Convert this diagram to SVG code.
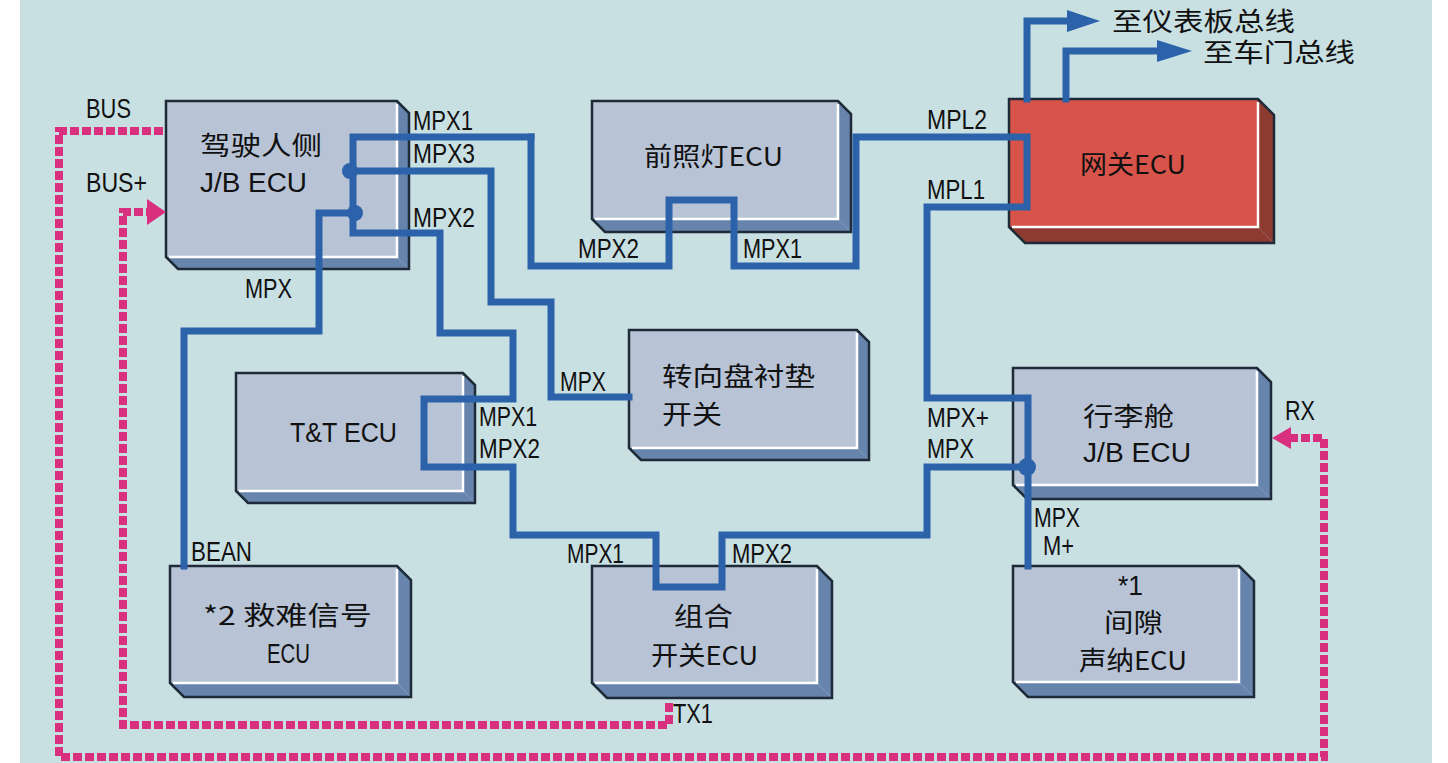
<svg xmlns="http://www.w3.org/2000/svg" width="1448" height="763" viewBox="0 0 1448 763">
<style>
.front{fill:#B8C4D6}
.side{fill:#6785AC}
.gfront{fill:#D8534A}
.gside{fill:#8D3A30}
.outl{fill:none;stroke:#1E2A38;stroke-width:2.5;stroke-linejoin:miter}
.hl{fill:none;stroke:#FFFFFF;stroke-width:2.5}
.cjk{font-family:"Noto Sans CJK SC","Liberation Sans",sans-serif;font-size:26px;fill:#111}
.lbl{font-family:"Liberation Sans",Arial,sans-serif;font-size:27px;fill:#111}
.bus{fill:none;stroke:#2C62AA;stroke-width:7;stroke-linejoin:miter;stroke-linecap:square}
.pink{fill:none;stroke:#D8307F;stroke-width:8;stroke-dasharray:9 3}
</style>
<rect x="20" y="0" width="1412" height="763" fill="#C9E0E3"/>

<g id="node-driver-jb">
<polygon class="side" points="397,101 409,113 409,269 397,257"/>
<polygon class="side" points="166,257 397,257 409,269 178,269"/>
<rect class="front" x="166" y="101" width="231" height="156"/>
<polyline class="hl" points="397,104 397,257 169,257"/>
<polygon class="outl" points="166,101 397,101 409,113 409,269 178,269 166,257"/>
<text class="cjk" x="200" y="155" textLength="122" lengthAdjust="spacingAndGlyphs">驾驶人侧</text>
<text class="lbl" x="200" y="192" textLength="107" lengthAdjust="spacingAndGlyphs">J/B ECU</text>
</g>

<g id="node-headlight">
<polygon class="side" points="838,101 851,114 851,232 838,219"/>
<polygon class="side" points="592,219 838,219 851,232 605,232"/>
<rect class="front" x="592" y="101" width="246" height="118"/>
<polyline class="hl" points="838,104 838,219 595,219"/>
<polygon class="outl" points="592,101 838,101 851,114 851,232 605,232 592,219"/>
<text class="cjk" x="644" y="166" textLength="139" lengthAdjust="spacingAndGlyphs">前照灯ECU</text>
</g>

<g id="node-gateway">
<polygon class="gside" points="1258,99 1274,115 1274,243 1258,227"/>
<polygon class="gside" points="1009,227 1258,227 1274,243 1025,243"/>
<rect class="gfront" x="1009" y="99" width="249" height="128"/>
<polyline class="hl" points="1258,102 1258,227 1012,227"/>
<polygon class="outl" points="1009,99 1258,99 1274,115 1274,243 1025,243 1009,227"/>
<text class="cjk" x="1080" y="174" textLength="106" lengthAdjust="spacingAndGlyphs">网关ECU</text>
</g>

<g id="node-tt">
<polygon class="side" points="463,373 475,385 475,503 463,491"/>
<polygon class="side" points="236,491 463,491 475,503 248,503"/>
<rect class="front" x="236" y="373" width="227" height="118"/>
<polyline class="hl" points="463,376 463,491 239,491"/>
<polygon class="outl" points="236,373 463,373 475,385 475,503 248,503 236,491"/>
<text class="lbl" x="290" y="442" textLength="107" lengthAdjust="spacingAndGlyphs">T&amp;T ECU</text>
</g>

<g id="node-steering">
<polygon class="side" points="857,330 869,342 869,460 857,448"/>
<polygon class="side" points="629,448 857,448 869,460 641,460"/>
<rect class="front" x="629" y="330" width="228" height="118"/>
<polyline class="hl" points="857,333 857,448 632,448"/>
<polygon class="outl" points="629,330 857,330 869,342 869,460 641,460 629,448"/>
<text class="cjk" x="662" y="386" textLength="153" lengthAdjust="spacingAndGlyphs">转向盘衬垫</text>
<text class="cjk" x="662" y="424" textLength="60" lengthAdjust="spacingAndGlyphs">开关</text>
</g>

<g id="node-luggage-jb">
<polygon class="side" points="1257,368 1271,382 1271,499 1257,485"/>
<polygon class="side" points="1013,485 1257,485 1271,499 1027,499"/>
<rect class="front" x="1013" y="368" width="244" height="117"/>
<polyline class="hl" points="1257,371 1257,485 1016,485"/>
<polygon class="outl" points="1013,368 1257,368 1271,382 1271,499 1027,499 1013,485"/>
<text class="cjk" x="1083" y="426" textLength="91" lengthAdjust="spacingAndGlyphs">行李舱</text>
<text class="lbl" x="1083" y="462" textLength="108" lengthAdjust="spacingAndGlyphs">J/B ECU</text>
</g>

<g id="node-distress">
<polygon class="side" points="397,566 411,580 411,697 397,683"/>
<polygon class="side" points="170,683 397,683 411,697 184,697"/>
<rect class="front" x="170" y="566" width="227" height="117"/>
<polyline class="hl" points="397,569 397,683 173,683"/>
<polygon class="outl" points="170,566 397,566 411,580 411,697 184,697 170,683"/>
<text class="cjk" x="203" y="625" textLength="169" lengthAdjust="spacingAndGlyphs">*2 救难信号</text>
<text class="lbl" x="267" y="663" textLength="43" lengthAdjust="spacingAndGlyphs">ECU</text>
</g>

<g id="node-combo">
<polygon class="side" points="817,566 832,581 832,698 817,683"/>
<polygon class="side" points="592,683 817,683 832,698 607,698"/>
<rect class="front" x="592" y="566" width="225" height="117"/>
<polyline class="hl" points="817,569 817,683 595,683"/>
<polygon class="outl" points="592,566 817,566 832,581 832,698 607,698 592,683"/>
<text class="cjk" x="674" y="626" textLength="59" lengthAdjust="spacingAndGlyphs">组合</text>
<text class="cjk" x="651" y="665" textLength="107" lengthAdjust="spacingAndGlyphs">开关ECU</text>
</g>

<g id="node-sonar">
<polygon class="side" points="1239,566 1254,581 1254,697 1239,682"/>
<polygon class="side" points="1013,682 1239,682 1254,697 1028,697"/>
<rect class="front" x="1013" y="566" width="226" height="116"/>
<polyline class="hl" points="1239,569 1239,682 1016,682"/>
<polygon class="outl" points="1013,566 1239,566 1254,581 1254,697 1028,697 1013,682"/>
<text class="lbl" x="1118" y="595" textLength="25" lengthAdjust="spacingAndGlyphs">*1</text>
<text class="cjk" x="1104" y="632" textLength="59" lengthAdjust="spacingAndGlyphs">间隙</text>
<text class="cjk" x="1079" y="670" textLength="108" lengthAdjust="spacingAndGlyphs">声纳ECU</text>
</g>

<g id="connectors">
<path class="bus" d="M531,137 H353 V233 H440 V333 H513 V399 H424 V467 H513 V535 H656 V587 H722 V535 H927 V467 H1027"/>
<path class="bus" d="M531,137 V266 H669 V200 H734 V266 H856 V137 H1027 V207 H927 V398 H1028 V566"/>
<path class="bus" d="M350,171 H491 V302 H551 V397 H629"/>
<path class="bus" d="M355,213 H319 V331 H184 V566"/>
<path class="bus" d="M1027,99 V21 H1070" stroke-linecap="butt"/>
<path class="bus" d="M1066,99 V51 H1160" stroke-linecap="butt"/>
<polygon points="1100,21 1067,10 1067,32" fill="#2C62AA"/>
<polygon points="1192,51 1157,40 1157,62" fill="#2C62AA"/>
<circle cx="350" cy="171" r="8" fill="#2C62AA"/>
<circle cx="355" cy="213" r="8" fill="#2C62AA"/>
<circle cx="1027" cy="467" r="9" fill="#2C62AA"/>
<path class="pink" d="M163,131 H59 V757 H1324 V438 H1290"/>
<polygon points="1272,438 1291,427 1291,449" fill="#D8307F"/>
<path class="pink" stroke-width="10" d="M669,703 V725 H123 V212 H149"/>
<polygon points="166,212 147,199 147,225" fill="#D8307F"/>
</g>

<g id="labels">
<text class="cjk" x="1112" y="31" textLength="183" lengthAdjust="spacingAndGlyphs">至仪表板总线</text>
<text class="cjk" x="1203" y="62" textLength="152" lengthAdjust="spacingAndGlyphs">至车门总线</text>
<text class="lbl" x="86" y="118" textLength="45" lengthAdjust="spacingAndGlyphs">BUS</text>
<text class="lbl" x="86" y="192" textLength="61" lengthAdjust="spacingAndGlyphs">BUS+</text>
<text class="lbl" x="413" y="130" textLength="60" lengthAdjust="spacingAndGlyphs">MPX1</text>
<text class="lbl" x="413" y="163" textLength="62" lengthAdjust="spacingAndGlyphs">MPX3</text>
<text class="lbl" x="413" y="227" textLength="62" lengthAdjust="spacingAndGlyphs">MPX2</text>
<text class="lbl" x="245" y="298" textLength="47" lengthAdjust="spacingAndGlyphs">MPX</text>
<text class="lbl" x="578" y="258" textLength="61" lengthAdjust="spacingAndGlyphs">MPX2</text>
<text class="lbl" x="743" y="258" textLength="59" lengthAdjust="spacingAndGlyphs">MPX1</text>
<text class="lbl" x="927" y="129" textLength="60" lengthAdjust="spacingAndGlyphs">MPL2</text>
<text class="lbl" x="927" y="199" textLength="58" lengthAdjust="spacingAndGlyphs">MPL1</text>
<text class="lbl" x="479" y="426" textLength="58" lengthAdjust="spacingAndGlyphs">MPX1</text>
<text class="lbl" x="479" y="458" textLength="61" lengthAdjust="spacingAndGlyphs">MPX2</text>
<text class="lbl" x="560" y="391" textLength="46" lengthAdjust="spacingAndGlyphs">MPX</text>
<text class="lbl" x="927" y="427" textLength="62" lengthAdjust="spacingAndGlyphs">MPX+</text>
<text class="lbl" x="927" y="458" textLength="47" lengthAdjust="spacingAndGlyphs">MPX</text>
<text class="lbl" x="1285" y="420" textLength="30" lengthAdjust="spacingAndGlyphs">RX</text>
<text class="lbl" x="1034" y="527" textLength="46" lengthAdjust="spacingAndGlyphs">MPX</text>
<text class="lbl" x="1043" y="555" textLength="31" lengthAdjust="spacingAndGlyphs">M+</text>
<text class="lbl" x="191" y="561" textLength="61" lengthAdjust="spacingAndGlyphs">BEAN</text>
<text class="lbl" x="567" y="563" textLength="57" lengthAdjust="spacingAndGlyphs">MPX1</text>
<text class="lbl" x="732" y="563" textLength="60" lengthAdjust="spacingAndGlyphs">MPX2</text>
<text class="lbl" x="673" y="723" textLength="40" lengthAdjust="spacingAndGlyphs">TX1</text>
</g>
</svg>
